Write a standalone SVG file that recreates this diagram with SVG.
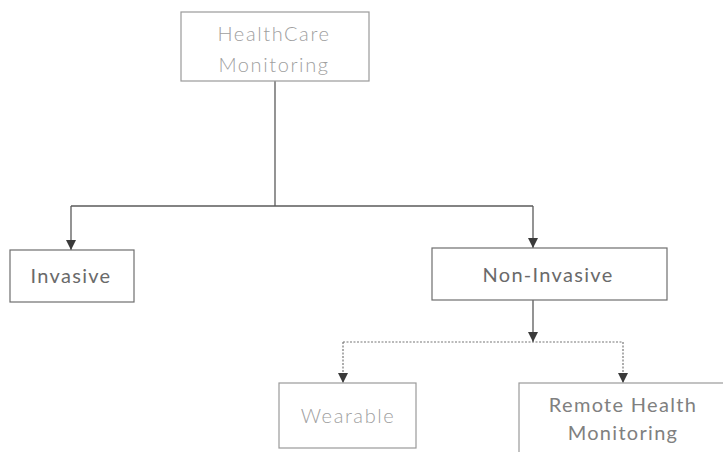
<svg xmlns="http://www.w3.org/2000/svg" width="723" height="452" viewBox="0 0 723 452">
<defs>
<style>
.box{fill:#fff;stroke:#6e6e6e;stroke-width:1.2}
.light{stroke:#9a9a9a}
.t{font-family:Lato,"Open Sans","Liberation Sans",sans-serif;font-size:20px;fill:#6a6a6a;text-anchor:middle;letter-spacing:1.3px}
.tl{fill:#a0a0a0;letter-spacing:1.6px;font-weight:300}
.tm{fill:#808080}
.c{fill:none;stroke:#5a5a5a;stroke-width:1.3}
.d{fill:none;stroke:#777;stroke-width:1.2;stroke-dasharray:2 1.5}
</style>
<marker id="ah" viewBox="0 0 10 10" refX="10" refY="5" markerWidth="10" markerHeight="10" markerUnits="userSpaceOnUse" orient="auto">
<path d="M0,0 L10,5 L0,10 z" fill="#3a3a3a"/>
</marker>
</defs>
<rect width="723" height="452" fill="#fff"/>
<g id="connectors">
<path class="c" d="M275,81 V206"/>
<path class="c" d="M71,206 H533" />
<path class="c" d="M71,206 V250" marker-end="url(#ah)"/>
<path class="c" d="M533,206 V248" marker-end="url(#ah)"/>
<path class="c" d="M533,300 V342" marker-end="url(#ah)"/>
<path class="d" d="M343,342 H623"/>
<path class="d" d="M343,342 V383" marker-end="url(#ah)"/>
<path class="d" d="M623,342 V383" marker-end="url(#ah)"/>
</g>
<g id="node-healthcare">
<rect class="box light" x="181" y="12" width="188" height="69"/>
<text class="t tl" x="274" y="41">HealthCare</text>
<text class="t tl" x="274" y="72">Monitoring</text>
</g>
<g id="node-invasive">
<rect class="box" x="10" y="250" width="124" height="52"/>
<text class="t" x="71" y="283">Invasive</text>
</g>
<g id="node-noninvasive">
<rect class="box" x="432" y="248" width="235" height="52"/>
<text class="t" x="548" y="282">Non-Invasive</text>
</g>
<g id="node-wearable">
<rect class="box light" x="279" y="383" width="137" height="65"/>
<text class="t tl" x="348" y="423">Wearable</text>
</g>
<g id="node-remote">
<rect class="box light" x="519" y="383" width="210" height="75"/>
<text class="t tm" x="623" y="412">Remote Health</text>
<text class="t tm" x="623" y="440">Monitoring</text>
</g>
</svg>
